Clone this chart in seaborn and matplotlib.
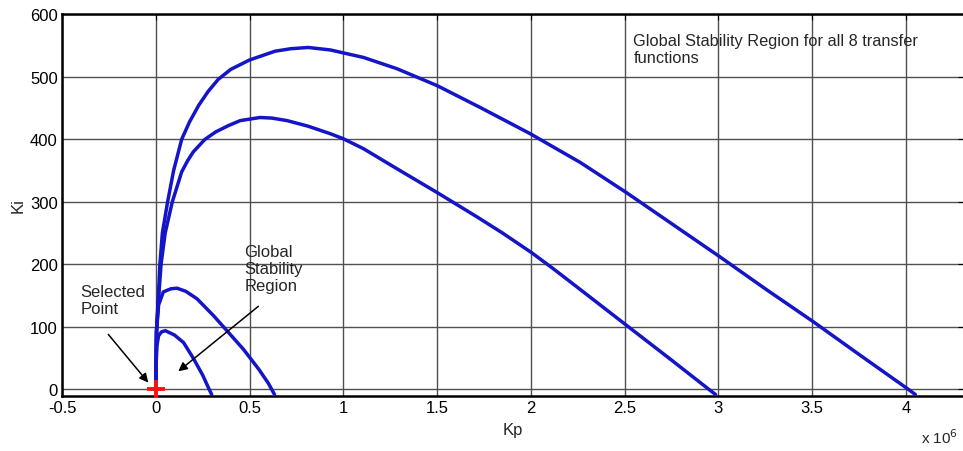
import matplotlib
matplotlib.use("Agg")
import matplotlib.pyplot as plt
import seaborn as sns
import pandas as pd

sns.set_style("white")
plt.rcParams["font.family"] = ["Liberation Sans", "DejaVu Sans"]

# Stability boundary curves in the (Kp, Ki) plane; Kp in units of 1e6
kp_a = [0.0, 0.002, 0.006, 0.015, 0.03, 0.051, 0.1, 0.148, 0.2, 0.25, 0.285, 0.298]
ki_a = [0, 40, 70, 86, 92, 94, 87, 75, 50, 23, 0, -8]

kp_b = [0.0, 0.002, 0.006, 0.015, 0.04, 0.08, 0.113, 0.16, 0.22, 0.308, 0.4, 0.468,
        0.55, 0.6, 0.633]
ki_b = [0, 50, 100, 135, 156, 161, 162, 157, 145, 118, 87, 64,
        32, 10, -8]

kp_c = [0.0, 0.003, 0.016, 0.028, 0.05, 0.088, 0.138, 0.17, 0.2, 0.262, 0.32, 0.387,
        0.45, 0.556, 0.62, 0.7, 0.813, 0.931, 1.0, 1.108, 1.286, 1.5, 1.713, 1.85,
        2.003, 2.12, 2.25, 2.504, 2.75, 2.95, 2.985]
ki_c = [0, 91, 150, 200, 250, 300, 348, 366, 380, 400, 412, 422,
        430, 435, 434, 430, 421, 409, 401, 385, 353, 315, 276, 250,
        219, 193, 163, 104, 47, 0, -8]

kp_d = [0.0, 0.003, 0.014, 0.022, 0.035, 0.063, 0.095, 0.138, 0.18, 0.23, 0.28,
        0.333, 0.4, 0.5, 0.636, 0.72, 0.813, 0.931, 1.108, 1.286, 1.5, 1.73,
        1.997, 2.264, 2.504, 2.708, 3.004, 3.25, 3.503, 3.75, 4.0, 4.05]
ki_d = [0, 91, 150, 200, 250, 300, 350, 400, 428, 455, 477,
        496, 512, 527, 541, 545, 547, 543, 531, 513, 486, 451,
        409, 363, 316, 274, 213, 161, 109, 56, 3, -8]

curves = [(kp_a, ki_a), (kp_b, ki_b), (kp_c, ki_c), (kp_d, ki_d)]

selected_kp = [0.0]
selected_ki = [0.0]

x_ticks = [-0.5, 0, 0.5, 1, 1.5, 2, 2.5, 3, 3.5, 4]
x_ticklabels = ["-0.5", "0", "0.5", "1", "1.5", "2", "2.5", "3", "3.5", "4"]
y_ticks = [0, 100, 200, 300, 400, 500, 600]

fig = plt.figure(figsize=(9.63, 4.52), dpi=100)
ax = fig.add_axes([0.0644, 0.1223, 0.9367, 0.8438])

blue = "#1414c8"
for kp, ki in curves:
    df = pd.DataFrame({"Kp": kp, "Ki": ki})
    sns.lineplot(data=df, x="Kp", y="Ki", sort=False, estimator=None,
                 color=blue, linewidth=2.5, ax=ax, zorder=3)
for line in ax.get_lines():
    line.set_solid_joinstyle("round")
    line.set_solid_capstyle("round")

ax.plot(selected_kp, selected_ki, marker="+", color="#ff1010", markersize=13,
        markeredgewidth=2.8, linestyle="none", zorder=5, clip_on=False)

ax.set_xlim(-0.5, 4.31)
ax.set_ylim(-10, 600)
ax.set_xticks(x_ticks)
ax.set_xticklabels(x_ticklabels)
ax.set_yticks(y_ticks)
ax.grid(True, color="#505050", linewidth=1.0, linestyle="-")
ax.set_axisbelow(True)
ax.tick_params(direction="in", length=4, labelsize=12, pad=3, colors="black",
               top=True, right=True)
for s in ax.spines.values():
    s.set_color("black")
    s.set_linewidth(1.8)

ax.set_xlabel("Kp", fontsize=12, labelpad=5)
ax.set_ylabel("Ki", fontsize=12, labelpad=3)
fig.text(0.956, 0.012, r"x 10$^{6}$", fontsize=11, ha="left", va="bottom")

ax.text(2.547, 570, "Global Stability Region for all 8 transfer\nfunctions",
        fontsize=11.8, ha="left", va="top", linespacing=1.15)

arrow_style = dict(arrowstyle="-|>", color="black", lw=1.1,
                   shrinkA=0, shrinkB=0, mutation_scale=13)

ax.text(-0.403, 168, "Selected\nPoint", fontsize=12, ha="left", va="top",
        linespacing=1.15)
ax.annotate("", xy=(-0.04, 11), xytext=(-0.253, 88), arrowprops=arrow_style)

ax.text(0.472, 232, "Global\nStability\nRegion", fontsize=12, ha="left",
        va="top", linespacing=1.15)
ax.annotate("", xy=(0.12, 29), xytext=(0.547, 133), arrowprops=arrow_style)

fig.savefig("out.png", dpi=100)
